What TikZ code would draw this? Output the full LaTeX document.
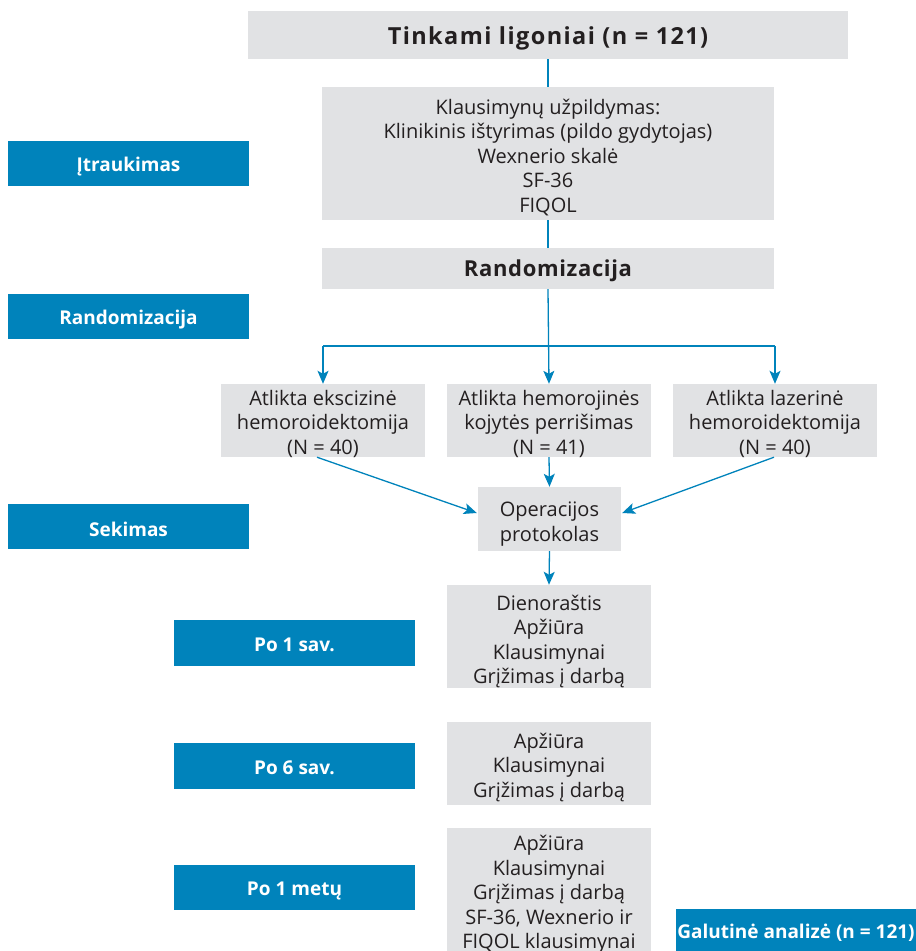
\documentclass[tikz,border=0pt]{standalone}
\usepackage{fontspec}
\setmainfont{Open Sans}
\usetikzlibrary{arrows.meta,calc}
\definecolor{boxgray}{HTML}{E1E2E4}
\definecolor{stageblue}{HTML}{0083BB}
\definecolor{ink}{HTML}{231F20}
\begin{document}
\begin{tikzpicture}[x=1pt,y=-1pt,
  gbox/.style={fill=boxgray, draw=none, inner sep=0pt},
  bbox/.style={fill=stageblue, draw=none, inner sep=0pt, minimum width=241, minimum height=45},
  gtxt/.style={inner sep=0pt, align=center, text=ink, font=\fontsize{20}{24.5}\selectfont},
  btxt/.style={inner sep=0pt, align=center, text=white, font=\bfseries\fontsize{19}{22}\selectfont},
  link/.style={draw=stageblue, line width=1.3pt},
  arr/.style={link, -{Stealth[length=13pt,width=11pt,inset=3pt]}}
]
\useasboundingbox (0,0) rectangle (916,951);
\begin{scope}
\clip (0,0) rectangle (916,951);

% ---- gray boxes ----
\node[gbox, minimum width=600, minimum height=48]  (top)   at (548,35) {};
\node[gbox, minimum width=452, minimum height=133] (quest) at (548,153.5) {};
\node[gbox, minimum width=452, minimum height=41]  (rnd)   at (548,268.5) {};
\node[gbox, minimum width=204, minimum height=73]  (armA)  at (323,420.5) {};
\node[gbox, minimum width=204, minimum height=73]  (armB)  at (549,420.5) {};
\node[gbox, minimum width=204, minimum height=73]  (armC)  at (775,420.5) {};
\node[gbox, minimum width=143, minimum height=64]  (op)    at (549.5,519) {};
\node[gbox, minimum width=204, minimum height=103] (wk1)   at (549,636.5) {};
\node[gbox, minimum width=204, minimum height=83]  (wk6)   at (549,763.5) {};
% the last visit box runs past the lower edge of the page
\node[gbox, minimum width=204, minimum height=131] (yr1)   at (549,893.5) {};

% ---- texts of the gray boxes ----
\node[gtxt, font=\bfseries\fontsize{23.5}{26}\selectfont\addfontfeature{LetterSpace=6}]
  (topT) at ($(top)+(0,3)$) {Tinkami ligoniai (n = 121)};
\node[gtxt] (questT) at ($(quest)+(0,4)$)
  {Klausimynų užpildymas:\\Klinikinis ištyrimas (pildo gydytojas)\\Wexnerio skalė\\SF-36\\FIQOL};
\node[gtxt, font=\bfseries\fontsize{22}{24}\selectfont\addfontfeature{LetterSpace=3}]
  (rndT) at ($(rnd)+(0,2)$) {Randomizacija};
\node[gtxt] (armAT) at ($(armA)+(0,3)$) {Atlikta ekscizinė\\hemoroidektomija\\(N = 40)};
\node[gtxt] (armBT) at ($(armB)+(0,3)$) {Atlikta hemorojinės\\kojytės perrišimas\\(N = 41)};
\node[gtxt] (armCT) at ($(armC)+(0,3)$) {Atlikta lazerinė\\hemoroidektomija\\(N = 40)};
\node[gtxt] (opT) at ($(op)+(0,5)$) {Operacijos\\protokolas};
\node[gtxt] (wk1T) at ($(wk1)+(0,5)$) {Dienoraštis\\Apžiūra\\Klausimynai\\Grįžimas į darbą};
\node[gtxt] (wk6T) at ($(wk6)+(0,4)$) {Apžiūra\\Klausimynai\\Grįžimas į darbą};
\node[gtxt] (yr1T) at (549,894.5)
  {Apžiūra\\Klausimynai\\Grįžimas į darbą\\SF-36, Wexnerio ir\\FIQOL klausimynai};

% ---- stage labels ----
\node[bbox] (sInc) at (128.5,163.5) {};
\node[bbox] (sRnd) at (128.5,316.5) {};
\node[bbox] (sFol) at (128.5,526.5) {};
\node[bbox, minimum height=46] (sW1) at (294.5,643) {};
\node[bbox, minimum height=46] (sW6) at (294.5,766) {};
\node[bbox] (sY1) at (294.5,887.5) {};
\node[bbox, minimum width=240, minimum height=42] (final) at (796,930) {};

\node[btxt] (sIncT) at ($(sInc)+(0,3)$) {Įtraukimas};
\node[btxt] (sRndT) at ($(sRnd)+(0,3)$) {Randomizacija};
\node[btxt] (sFolT) at ($(sFol)+(0,3)$) {Sekimas};
\node[btxt] (sW1T) at ($(sW1)+(0,2)$) {Po 1 sav.};
\node[btxt] (sW6T) at ($(sW6)+(0,2)$) {Po 6 sav.};
\node[btxt] (sY1T) at ($(sY1)+(0,3)$) {Po 1 metų};
\node[btxt] (finalT) at ($(final)+(0,3)$) {Galutinė analizė (n = 121)};

% ---- connectors ----
\draw[link] (top.south) -- (quest.north);
\draw[link] (quest.south) -- (rnd.north);
\coordinate (split) at (548,346);
\draw[link] (split -| armA.north) -- (split -| armC.north);
\draw[arr] (rnd.south) -- (armB.north);
\draw[arr] (split -| armA.north) -- (armA.north);
\draw[arr] (split -| armC.north) -- (armC.north);
\draw[arr] ($(armA.south)+(-6,0)$) -- ($(op.west)+(-1,-6)$);
\draw[arr] (armB.south) -- (op.north);
\draw[arr] ($(armC.south)+(-1,0)$) -- ($(op.east)+(1,-6)$);
\draw[arr] (op.south) -- (wk1.north);
\end{scope}
\end{tikzpicture}
\end{document}
